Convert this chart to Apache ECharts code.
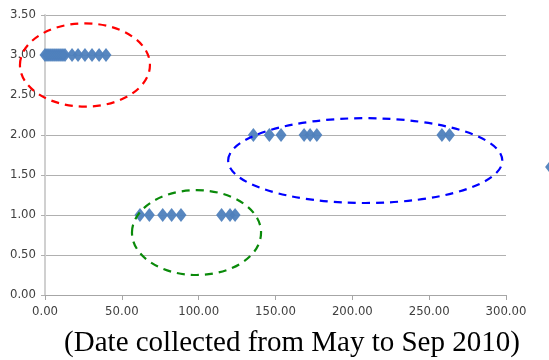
<!DOCTYPE html>
<html>
<head>
<meta charset="utf-8">
<script src="https://cdn.jsdelivr.net/npm/echarts@6/dist/echarts.min.js"></script>
<style>
html,body{margin:0;padding:0;background:#fff;}
#chart{width:549px;height:360px;}
</style>
</head>
<body>
<div id="chart"></div>
<script>
// Data
var groupHighX = [0, 1.3, 2.6, 3.9, 5.2, 6.5, 7.8, 9.1, 10.4, 11.7, 13, 17.6, 21.5, 26, 30.6, 35.2, 39.7];
var groupHighY = 3;
var groupLowX = [61.8, 67.9, 76.6, 82.4, 88.5, 114.9, 120.4, 123.7];
var groupLowY = 1;
var groupMidX = [135.6, 146, 153.6, 168.6, 172.5, 176.9, 258.3, 263.2];
var groupMidY = 2;
var outlierX = [329];
var outlierY = [1.6];
var xTicks = [0, 50, 100, 150, 200, 250, 300];
var yTicks = [0, 0.5, 1, 1.5, 2, 2.5, 3, 3.5];
var caption = '(Date collected from May to Sep 2010)';
// annotation ellipses in data units: [cx, cy, rx, ry]
var ellipseRed = [26, 2.875, 42.3, 0.52];
var ellipseGreen = [98.6, 0.78, 42, 0.53];
var ellipseBlue = [208.4, 1.68, 89.2, 0.53];

var points = [];
groupHighX.forEach(function (x) { points.push([x, groupHighY]); });
groupLowX.forEach(function (x) { points.push([x, groupLowY]); });
groupMidX.forEach(function (x) { points.push([x, groupMidY]); });
outlierX.forEach(function (x, i) { points.push([x, outlierY[i]]); });

var labelFont = {
  fontFamily: '"Liberation Sans Narrow", "DejaVu Sans Condensed", sans-serif',
  fontSize: 13,
  color: '#404040'
};

var chart = echarts.init(document.getElementById('chart'), null, {renderer: 'canvas'});
chart.setOption({
  animation: false,
  grid: {left: 45, right: 43, top: 15, bottom: 65, containLabel: false},
  xAxis: {
    type: 'value', min: xTicks[0], max: xTicks[xTicks.length - 1], interval: 50,
    axisLine: {show: true, lineStyle: {color: '#a6a6a6', width: 1}},
    axisTick: {show: true, length: 5, lineStyle: {color: '#a6a6a6'}},
    splitLine: {show: false},
    axisLabel: Object.assign({margin: 10, formatter: function (v) { return v.toFixed(2); }}, labelFont)
  },
  yAxis: {
    type: 'value', min: yTicks[0], max: yTicks[yTicks.length - 1], interval: 0.5,
    axisLine: {show: true, lineStyle: {color: '#d0d0d0', width: 2}},
    axisTick: {show: true, length: 4, lineStyle: {color: '#b0b0b0'}},
    splitLine: {show: true, lineStyle: {color: '#b0b0b0', width: 1.2}},
    axisLabel: Object.assign({margin: 9, formatter: function (v) { return v.toFixed(2); }}, labelFont)
  },
  series: [{
    type: 'scatter',
    data: points,
    symbol: 'diamond',
    symbolSize: [11, 14],
    clip: false,
    itemStyle: {color: '#4f81bd', opacity: 0.95}
  }]
});

function ell(e, color, dash) {
  var c = chart.convertToPixel({gridIndex: 0}, [e[0], e[1]]);
  var r = chart.convertToPixel({gridIndex: 0}, [e[0] + e[2], e[1] + e[3]]);
  return {
    type: 'ellipse',
    shape: {cx: c[0], cy: c[1], rx: Math.abs(r[0] - c[0]), ry: Math.abs(c[1] - r[1])},
    style: {fill: null, stroke: color, lineWidth: 2.2, lineDash: dash},
    z: 10
  };
}

chart.setOption({
  graphic: [
    ell(ellipseRed, '#ff0000', [8, 6]),
    ell(ellipseGreen, '#0a8a0a', [8, 6]),
    ell(ellipseBlue, '#0000ff', [8, 6]),
    {
      type: 'text', x: 292, y: 343,
      style: {
        text: caption, textAlign: 'center', textVerticalAlign: 'middle',
        font: '29px "Liberation Serif", "Times New Roman", serif', fill: '#000'
      }
    }
  ]
});
</script>
</body>
</html>
